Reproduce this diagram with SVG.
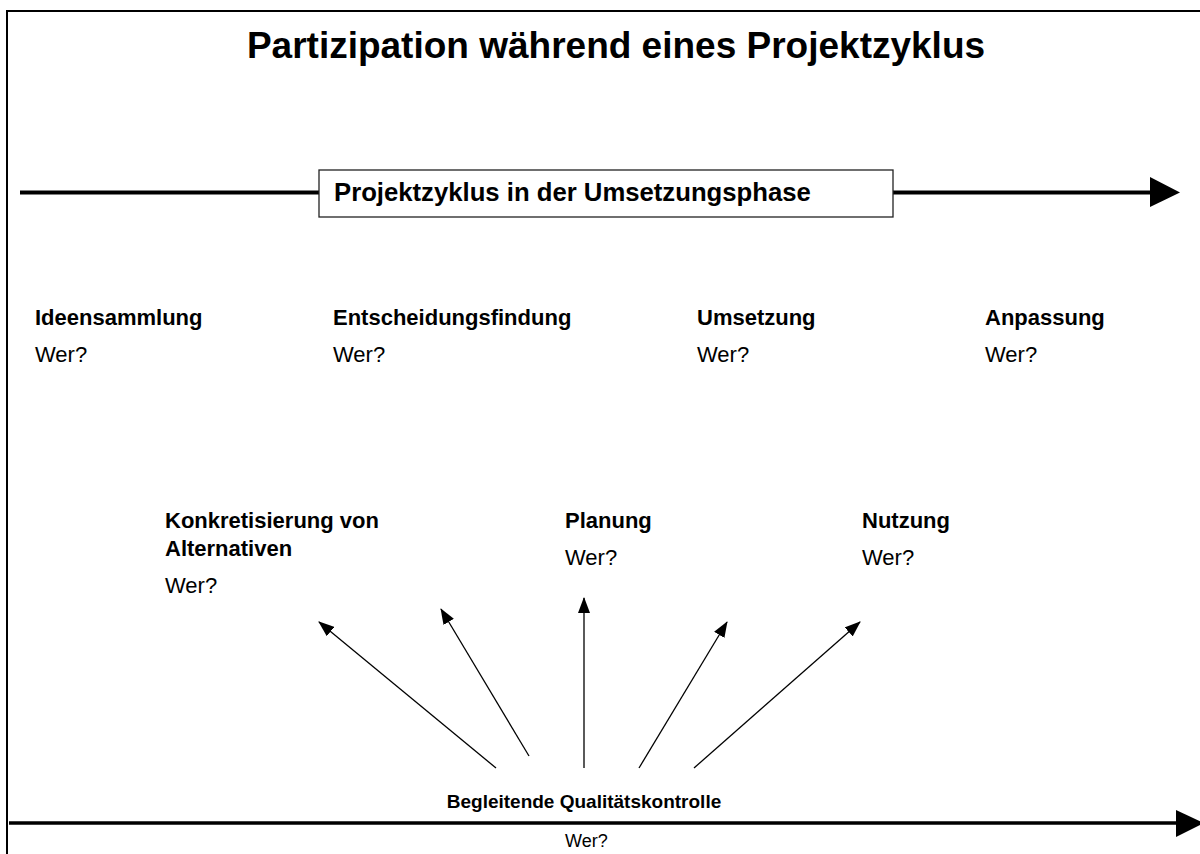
<svg xmlns="http://www.w3.org/2000/svg" width="1200" height="854" viewBox="0 0 1200 854">
<style>
text{font-family:"Liberation Sans",Arial,sans-serif;fill:#000}
.b{font-weight:bold}
.lab{font-size:22px}
.thin{stroke:#000;stroke-width:1.3;fill:none}
.thick{stroke:#000;fill:none}
</style>
<defs>
<marker id="ah" viewBox="0 0 16 12" refX="15" refY="6" markerWidth="16" markerHeight="12" markerUnits="userSpaceOnUse" orient="auto">
<path d="M0,0 L16,6 L0,12 Z" fill="#000"/>
</marker>
</defs>
<rect x="0" y="0" width="1200" height="854" fill="#fff"/>
<g id="frame"><path d="M7,854 V11 H1200" class="thick" stroke-width="2"/></g>
<g id="title"><text x="616" y="58" class="b" font-size="37" text-anchor="middle">Partizipation während eines Projektzyklus</text></g>
<g id="connectors">
<line x1="20" y1="192.5" x2="319" y2="192.5" class="thick" stroke-width="4"/>
<line x1="893" y1="192.5" x2="1152" y2="192.5" class="thick" stroke-width="4"/>
<polygon points="1150,177 1180,192.5 1150,207" fill="#000"/>
<line x1="9" y1="823" x2="1178" y2="823" class="thick" stroke-width="3.5"/>
<polygon points="1176,810 1204,823 1176,837" fill="#000"/>
<line x1="496" y1="768" x2="319" y2="622" class="thin" marker-end="url(#ah)"/>
<line x1="529" y1="756" x2="441" y2="609" class="thin" marker-end="url(#ah)"/>
<line x1="584" y1="768" x2="584" y2="598" class="thin" marker-end="url(#ah)"/>
<line x1="639" y1="768" x2="727" y2="622" class="thin" marker-end="url(#ah)"/>
<line x1="694" y1="768" x2="860" y2="622" class="thin" marker-end="url(#ah)"/>
</g>
<g id="phase-box">
<rect x="319" y="170" width="574" height="47" fill="#fff" stroke="#222" stroke-width="1.3"/>
<text x="334" y="201" class="b" font-size="25.7">Projektzyklus in der Umsetzungsphase</text>
</g>
<g id="ideensammlung"><text x="35" y="325" class="b lab">Ideensammlung</text><text x="35" y="362" class="lab">Wer?</text></g>
<g id="entscheidungsfindung"><text x="333" y="325" class="b lab">Entscheidungsfindung</text><text x="333" y="362" class="lab">Wer?</text></g>
<g id="umsetzung"><text x="697" y="325" class="b lab">Umsetzung</text><text x="697" y="362" class="lab">Wer?</text></g>
<g id="anpassung"><text x="985" y="325" class="b lab">Anpassung</text><text x="985" y="362" class="lab">Wer?</text></g>
<g id="konkretisierung"><text x="165" y="528" class="b lab">Konkretisierung von</text><text x="165" y="556" class="b lab">Alternativen</text><text x="165" y="593" class="lab">Wer?</text></g>
<g id="planung"><text x="565" y="528" class="b lab">Planung</text><text x="565" y="565" class="lab">Wer?</text></g>
<g id="nutzung"><text x="862" y="528" class="b lab">Nutzung</text><text x="862" y="565" class="lab">Wer?</text></g>
<g id="qualitaetskontrolle"><text x="584" y="808" class="b" font-size="19" text-anchor="middle">Begleitende Qualitätskontrolle</text><text x="565" y="847" font-size="18">Wer?</text></g>
</svg>
